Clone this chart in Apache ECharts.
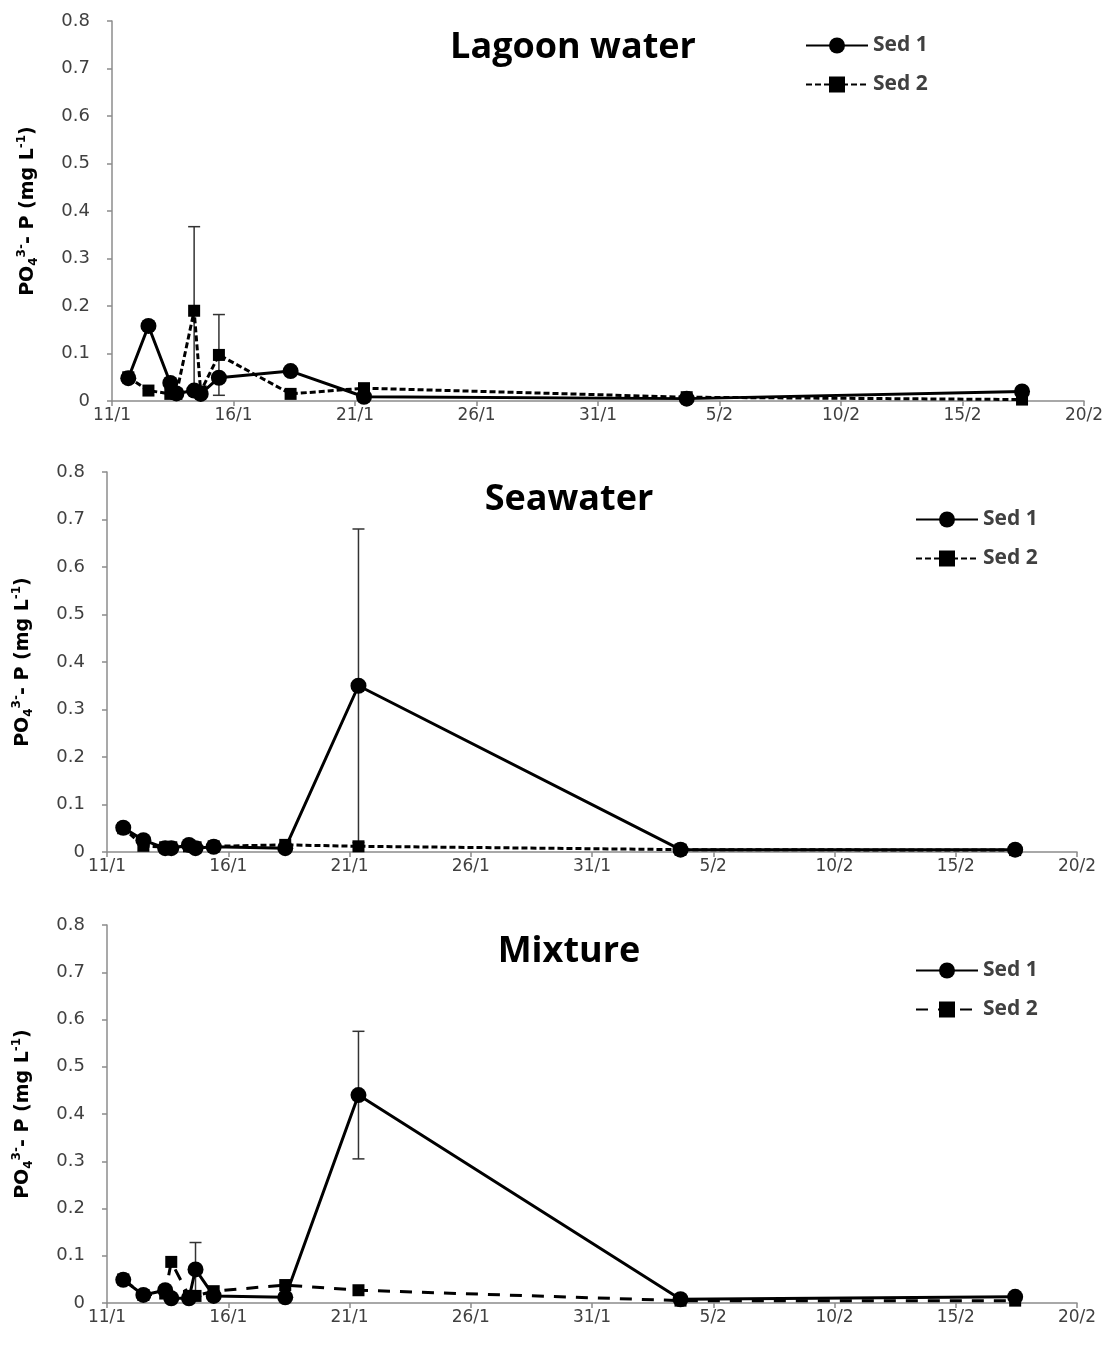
<!DOCTYPE html>
<html>
<head>
<meta charset="utf-8">
<script src="https://cdn.jsdelivr.net/npm/echarts@6/dist/echarts.min.js"></script>
<style>
html,body{margin:0;padding:0;background:#fff;}
#chart{width:1110px;height:1347px;}
</style>
</head>
<body>
<div id="chart"></div>
<script>
// ---- data ----
const tickLabels = ['11/1','16/1','21/1','26/1','31/1','5/2','10/2','15/2','20/2'];
// sampling times, days after 11/1
const sampleDays = [0.67, 1.5, 2.4, 2.65, 3.38, 3.65, 4.4, 7.35, 10.37, 23.65, 37.45];
const seriesNames = ['Sed 1', 'Sed 2'];
const panelTitles = ['Lagoon water', 'Seawater', 'Mixture'];

const lagoonSed1    = [0.048, 0.158, 0.038, 0.016, 0.022, 0.015, 0.049, 0.063, 0.009, 0.005, 0.020];
const lagoonSed2    = [0.050, 0.022, 0.015, 0.015, 0.190, 0.020, 0.097, 0.015, 0.027, 0.008, 0.003];
const lagoonSed1Err = [0, 0, 0, 0, 0, 0, 0, 0, 0, 0, 0];
const lagoonSed2Err = [0, 0, 0, 0, 0.177, 0, 0.085, 0, 0, 0, 0];

const seaSed1    = [0.051, 0.025, 0.008, 0.008, 0.015, 0.008, 0.011, 0.008, 0.350, 0.005, 0.005];
const seaSed2    = [0.050, 0.013, 0.010, 0.010, 0.012, 0.010, 0.012, 0.015, 0.012, 0.005, 0.004];
const seaSed1Err = [0, 0, 0, 0, 0, 0, 0, 0, 0.330, 0, 0];
const seaSed2Err = [0, 0, 0, 0, 0, 0, 0, 0, 0, 0, 0];

const mixSed1    = [0.049, 0.017, 0.027, 0.010, 0.010, 0.071, 0.015, 0.012, 0.440, 0.008, 0.013];
const mixSed2    = [0.050, 0.017, 0.020, 0.087, 0.015, 0.015, 0.025, 0.038, 0.027, 0.005, 0.005];
const mixSed1Err = [0, 0, 0, 0, 0, 0.057, 0, 0, 0.135, 0, 0];
const mixSed2Err = [0, 0, 0, 0, 0, 0, 0, 0, 0, 0, 0];

// ---- layout ----
const panels = [
  {title: panelTitles[0], s1: lagoonSed1, s2: lagoonSed2, e1: lagoonSed1Err, e2: lagoonSed2Err,
   grid: {left: 112, right: 26, top: 21, height: 380}, titlePos: {x: 568, y: 25}, legend: {left: 800, top: 30}, dash: [6, 3]},
  {title: panelTitles[1], s1: seaSed1, s2: seaSed2, e1: seaSed1Err, e2: seaSed2Err,
   grid: {left: 107, right: 33, top: 472, height: 380}, titlePos: {x: 564, y: 477}, legend: {left: 910, top: 504}, dash: [6, 3]},
  {title: panelTitles[2], s1: mixSed1, s2: mixSed2, e1: mixSed1Err, e2: mixSed2Err,
   grid: {left: 107, right: 33, top: 925, height: 378}, titlePos: {x: 564, y: 929}, legend: {left: 910, top: 955}, dash: [12, 10]}
];

const FONT = 'DejaVu Sans';
const grids = [], xAxes = [], yAxes = [], series = [], legends = [], titles = [];

function errData(vals, errs) {
  const out = [];
  errs.forEach((e, k) => { if (e > 0) out.push([sampleDays[k], vals[k] - e, vals[k] + e]); });
  return out;
}

panels.forEach((p, i) => {
  grids.push(Object.assign({containLabel: false}, p.grid));
  titles.push({
    text: p.title, left: p.titlePos.x, top: p.titlePos.y, textAlign: 'center',
    textStyle: {fontFamily: 'Open Sans', fontWeight: 'bold', fontSize: 36, color: '#000'}
  });
  xAxes.push({
    type: 'value', gridIndex: i, min: 0, max: 40, interval: 5,
    axisLine: {lineStyle: {color: '#8c8c8c', width: 1.5}},
    axisTick: {show: true, length: 5, lineStyle: {color: '#8c8c8c', width: 1.5}},
    splitLine: {show: false},
    axisLabel: {color: '#404040', fontFamily: FONT, fontSize: 17, margin: 6,
      formatter: v => tickLabels[Math.round(v / 5)] || ''}
  });
  yAxes.push({
    type: 'value', gridIndex: i, min: 0, max: 0.8, interval: 0.1,
    axisLine: {show: true, lineStyle: {color: '#8c8c8c', width: 1.5}},
    axisTick: {show: true, length: 5, lineStyle: {color: '#8c8c8c', width: 1.5}},
    splitLine: {show: false},
    axisLabel: {color: '#404040', fontFamily: FONT, fontSize: 18, margin: 22},
    name: '{b|PO}{sub|4}{sup|3-}{b|- P (mg L}{sup|-1}{b|)}',
    nameLocation: 'middle', nameRotate: 90, nameGap: 72,
    nameTextStyle: {
      rich: {
        b: {fontFamily: FONT, fontWeight: 'bold', fontSize: 19, color: '#000', lineHeight: 24, verticalAlign: 'middle'},
        sub: {fontFamily: FONT, fontWeight: 'bold', fontSize: 12, color: '#000', lineHeight: 24, verticalAlign: 'bottom'},
        sup: {fontFamily: FONT, fontWeight: 'bold', fontSize: 12, color: '#000', lineHeight: 24, verticalAlign: 'top'}
      }
    }
  });
  const n1 = i + '|' + seriesNames[0], n2 = i + '|' + seriesNames[1];
  legends.push({
    data: [n1, n2], orient: 'vertical', left: p.legend.left, top: p.legend.top,
    itemWidth: 62, itemHeight: 20, itemGap: 18,
    formatter: name => name.split('|')[1],
    textStyle: {fontFamily: 'Open Sans', fontWeight: 'bold', fontSize: 21, color: '#404040'}
  });
  const errSeries = (vals, errs) => ({
    type: 'custom', xAxisIndex: i, yAxisIndex: i, z: 1, silent: true,
    data: errData(vals, errs),
    renderItem: (params, api) => {
      const x = api.value(0);
      const lo = api.coord([x, api.value(1)]);
      const hi = api.coord([x, api.value(2)]);
      const w = 6;
      const st = {stroke: '#333', lineWidth: 1.5};
      return {type: 'group', children: [
        {type: 'line', shape: {x1: lo[0], y1: lo[1], x2: hi[0], y2: hi[1]}, style: st},
        {type: 'line', shape: {x1: hi[0] - w, y1: hi[1], x2: hi[0] + w, y2: hi[1]}, style: st},
        {type: 'line', shape: {x1: lo[0] - w, y1: lo[1], x2: lo[0] + w, y2: lo[1]}, style: st}
      ]};
    }
  });
  series.push(errSeries(p.s1, p.e1));
  series.push(errSeries(p.s2, p.e2));
  series.push({
    name: n2, type: 'line', xAxisIndex: i, yAxisIndex: i, z: 3,
    data: sampleDays.map((d, k) => [d, p.s2[k]]),
    symbol: 'rect', symbolSize: 12, showSymbol: true,
    lineStyle: {color: '#000', width: 3, type: p.dash},
    itemStyle: {color: '#000'}
  });
  series.push({
    name: n1, type: 'line', xAxisIndex: i, yAxisIndex: i, z: 4,
    data: sampleDays.map((d, k) => [d, p.s1[k]]),
    symbol: 'circle', symbolSize: 16, showSymbol: true,
    lineStyle: {color: '#000', width: 3},
    itemStyle: {color: '#000'}
  });
});

const chart = echarts.init(document.getElementById('chart'), null, {renderer: 'canvas'});
chart.setOption({
  backgroundColor: '#fff',
  animation: false,
  title: titles,
  legend: legends,
  grid: grids,
  xAxis: xAxes,
  yAxis: yAxes,
  series: series
});
</script>
</body>
</html>
